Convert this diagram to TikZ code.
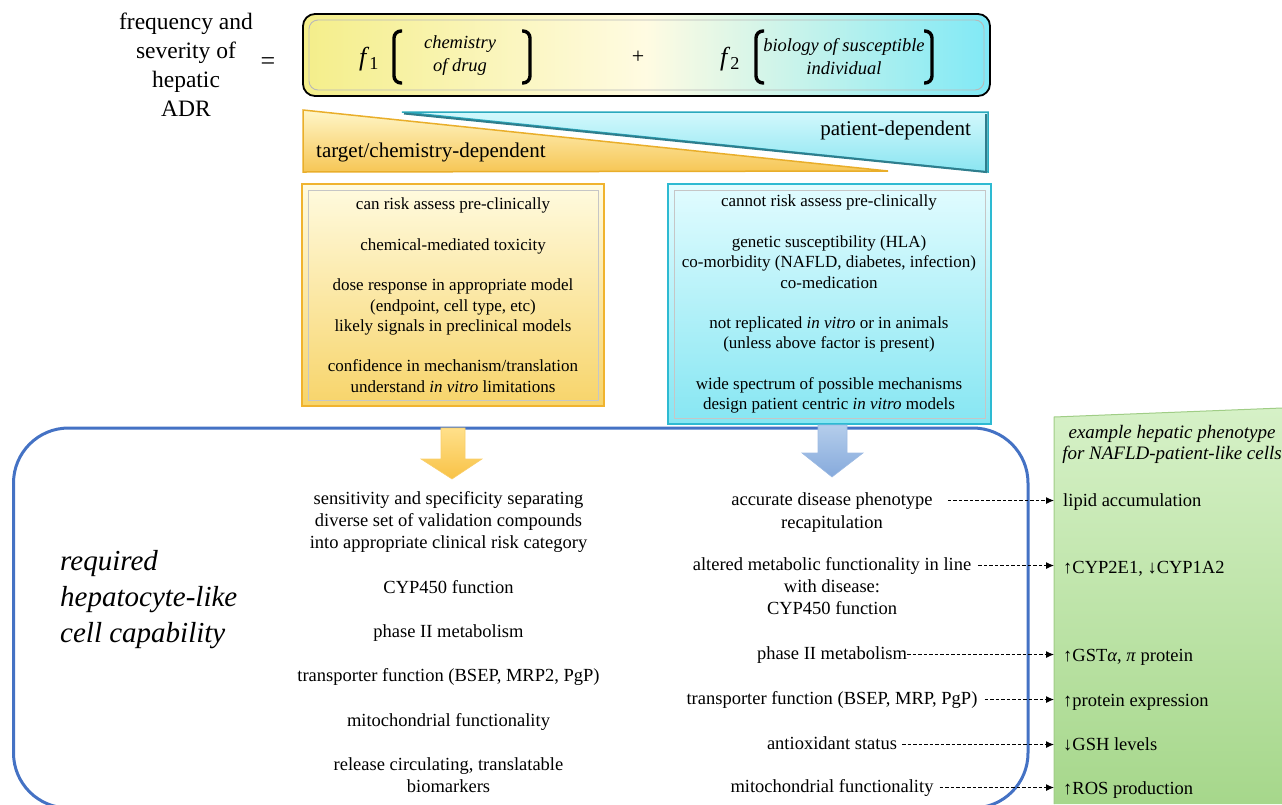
\documentclass[tikz,border=0pt]{standalone}
\usepackage{fontspec}
\setmainfont{Liberation Serif}
\usetikzlibrary{arrows.meta}
\definecolor{fyel}{HTML}{F4EE8A}
\definecolor{fmid}{HTML}{FFFBE2}
\definecolor{fcya}{HTML}{80E9F6}
\definecolor{tyTop}{HTML}{FFF6C8}
\definecolor{tyBot}{HTML}{F6C655}
\definecolor{tyEdge}{HTML}{E9AE2A}
\definecolor{tbTop}{HTML}{D2F8FC}
\definecolor{tbBot}{HTML}{8AE5F1}
\definecolor{tbEdge}{HTML}{2AA9BD}
\definecolor{tbDark}{HTML}{2F7D8C}
\definecolor{byTop}{HTML}{FFFBE0}
\definecolor{byBot}{HTML}{F7D46A}
\definecolor{byEdge}{HTML}{F0B32E}
\definecolor{bcTop}{HTML}{E2FCFF}
\definecolor{bcBot}{HTML}{86E6F2}
\definecolor{bcEdge}{HTML}{2DBAD2}
\definecolor{frame}{HTML}{4472C4}
\definecolor{ayTop}{HTML}{FFE08A}
\definecolor{ayBot}{HTML}{F8C246}
\definecolor{abTop}{HTML}{B4CDEB}
\definecolor{abBot}{HTML}{86AADC}
\definecolor{gTop}{HTML}{D6F1C7}
\definecolor{gBot}{HTML}{A6D78B}
\definecolor{gEdge}{HTML}{A0CD86}
\begin{document}
\begin{tikzpicture}[x=1pt,y=-1pt,
  boxtxt/.style={align=center, inner sep=0pt, font=\fontsize{17}{20.3}\selectfont,
    execute at begin node=\strut, execute at end node=\strut},
  midtxt/.style={align=center, inner sep=0pt, font=\fontsize{18.5}{22.2}\selectfont,
    execute at begin node=\strut, execute at end node=\strut},
  oneline/.style={inner sep=0pt, font=\fontsize{18.5}{22.2}\selectfont, text height=13pt, text depth=4pt},
  grn/.style={oneline, anchor=west},
  darr/.style={dash pattern=on 3.5pt off 2pt, line width=1pt, -{Latex[length=8pt,width=7pt]}, shorten >=9pt},
  brk/.style={line width=3.4pt, rounded corners=7pt},
  fx/.style={inner sep=0pt, font=\fontsize{26}{26}\selectfont},
  fin/.style={align=center, inner sep=0pt, font=\fontsize{18.5}{23}\selectfont\itshape,
    execute at begin node=\strut, execute at end node=\strut},
  trilab/.style={inner sep=0pt, font=\fontsize{21}{21}\selectfont, text height=14pt, text depth=5pt}
]
\useasboundingbox (0,0) rectangle (1282,804);
\clip (0,0) rectangle (1282,804);

% top-left label
\node[align=center, inner sep=0pt, font=\fontsize{23.5}{29}\selectfont,
  execute at begin node=\strut, execute at end node=\strut] (lhs) at (186,69.5)
  {frequency and\\severity of\\hepatic\\ADR};
\node[fx] (eq) at (268,64) {=};

% formula box
\shadedraw[left color=fyel, right color=fcya, middle color=fmid, draw=black, line width=1.8pt,
  rounded corners=12pt] (303,14) rectangle (990,96);
\draw[gray!55, line width=0.9pt, rounded corners=9pt] (309,20) rectangle (984,90);
\node[fx] (f1) at (369,59) {\itshape f\/\textsubscript{\upshape 1}};
\draw[brk] (402,31) -- (394,31) -- (394,83) -- (402,83);
\node[fin] (chem) at (460,57) {chemistry\\of drug};
\draw[brk] (522,31) -- (530,31) -- (530,83) -- (522,83);
\node[inner sep=0pt, font=\fontsize{22}{22}\selectfont] (plus) at (638,57) {+};
\node[fx] (f2) at (730,59) {\itshape f\/\textsubscript{\upshape 2}};
\draw[brk] (764,31) -- (756,31) -- (756,83) -- (764,83);
\node[fin] (bio) at (844,60) {biology of susceptible\\individual};
\draw[brk] (924,31) -- (932,31) -- (932,83) -- (924,83);

% triangles
\shadedraw[top color=tyTop, bottom color=tyBot, draw=tyEdge, line width=1.5pt]
  (303,110) -- (888,171) -- (303,172) -- cycle;
\shadedraw[top color=tbTop, bottom color=tbBot, draw=tbEdge, line width=1.5pt]
  (402,112) -- (988,112) -- (988,172) -- cycle;
\draw[tbDark, line width=2pt] (404,113.5) -- (986,172) -- (986,114);
\node[trilab, anchor=west] (tcd) at (316,153) {target/chemistry-dependent};
\node[trilab, anchor=east] (pd) at (971,131) {patient-dependent};

% yellow box
\shadedraw[top color=byTop, bottom color=byBot, draw=byEdge, line width=2pt] (302,184) rectangle (604,406);
\draw[gray!45, line width=0.8pt] (308,190) rectangle (598,400);
\node[boxtxt] (ytxt) at (453,298) {can risk assess pre-clinically\\[20.3pt]
chemical-mediated toxicity\\[20.3pt]
dose response in appropriate model\\
(endpoint, cell type, etc)\\
likely signals in preclinical models\\[20.3pt]
confidence in mechanism/translation\\
understand \textit{in vitro} limitations};

% cyan box
\shadedraw[top color=bcTop, bottom color=bcBot, draw=bcEdge, line width=2pt] (668,184) rectangle (991,424);
\draw[gray!45, line width=0.8pt] (674,190) rectangle (985,418);
\node[boxtxt] (ctxt) at (829,305.5) {cannot risk assess pre-clinically\\[20.3pt]
genetic susceptibility (HLA)\\
co-morbidity (NAFLD, diabetes, infection)\\
co-medication\\[20.3pt]
not replicated \textit{in vitro} or in animals\\
(unless above factor is present)\\[20.3pt]
wide spectrum of possible mechanisms\\
design patient centric \textit{in vitro} models};

% green panel
\shadedraw[top color=gTop, bottom color=gBot, draw=none] (1054,417) -- (1282,408) -- (1282,804) -- (1054,804) -- cycle;
\draw[gEdge, line width=1pt] (1054,804) -- (1054,417) -- (1282,408);

% big frame
\draw[frame, line width=3pt, rounded corners=55pt] (13.5,428) rectangle (1028,808);

% down arrows
\shadedraw[top color=ayTop, bottom color=ayBot, draw=ayBot!80!white, line width=0.6pt]
  (441,428) -- (465,428) -- (465,459) -- (482,459) -- (452,479) -- (421,459) -- (441,459) -- cycle;
\shadedraw[top color=abTop, bottom color=abBot, draw=abBot!80!white, line width=0.6pt]
  (818,425) -- (847,425) -- (847,453) -- (863,453) -- (832,477) -- (802,453) -- (818,453) -- cycle;

% left label
\node[align=left, anchor=west, inner sep=0pt, font=\fontsize{29}{36}\selectfont\itshape,
  execute at begin node=\strut, execute at end node=\strut] (req) at (60,602)
  {required\\hepatocyte-like\\cell capability};

% middle column
\node[midtxt] (mid) at (448.5,645.5) {sensitivity and specificity separating\\
diverse set of validation compounds\\
into appropriate clinical risk category\\[22.2pt]
CYP450 function\\[22.2pt]
phase II metabolism\\[22.2pt]
transporter function (BSEP, MRP2, PgP)\\[22.2pt]
mitochondrial functionality\\[22.2pt]
release circulating, translatable\\
biomarkers};

% right column
\node[oneline] (ra1) at (832,500.5) {accurate disease phenotype};
\node[oneline] (ra2) at (832,523.5) {recapitulation};
\node[oneline] (rb1) at (832,565.5) {altered metabolic functionality in line};
\node[midtxt] (rb2) at (832,600.5) {with disease:\\CYP450 function};
\node[oneline] (rc) at (832,654.5) {phase II metabolism};
\node[oneline] (rd) at (832,699.5) {transporter function (BSEP, MRP, PgP)};
\node[oneline] (re) at (832,744.5) {antioxidant status};
\node[oneline] (rf) at (832,787.5) {mitochondrial functionality};

% green texts
\node[align=center, inner sep=0pt, font=\fontsize{19}{21}\selectfont\itshape,
  execute at begin node=\strut, execute at end node=\strut] (ghead) at (1172,445.5)
  {example hepatic phenotype\\for NAFLD-patient-like cells};
\node[grn] (ga) at (1063,502) {lipid accumulation};
\node[grn] (gb) at (1063,569) {↑CYP2E1, ↓CYP1A2};
\node[grn] (gc) at (1063,657) {↑GST\textit{α}, \textit{π} protein};
\node[grn] (gd) at (1063,702) {↑protein expression};
\node[grn] (ge) at (1063,746) {↓GSH levels};
\node[grn] (gf) at (1063,790) {↑ROS production};

% dashed connectors
\draw[darr, shorten <=15pt] (ra1.east) -- (ra1.east -| ga.west);
\draw[darr, shorten <=7pt] (rb1.east) -- (rb1.east -| gb.west);
\draw[darr, shorten <=0pt] (rc.east) -- (rc.east -| gc.west);
\draw[darr, shorten <=7pt] (rd.east) -- (rd.east -| gd.west);
\draw[darr, shorten <=5pt] (re.east) -- (re.east -| ge.west);
\draw[darr, shorten <=6pt] (rf.east) -- (rf.east -| gf.west);
\end{tikzpicture}
\end{document}
